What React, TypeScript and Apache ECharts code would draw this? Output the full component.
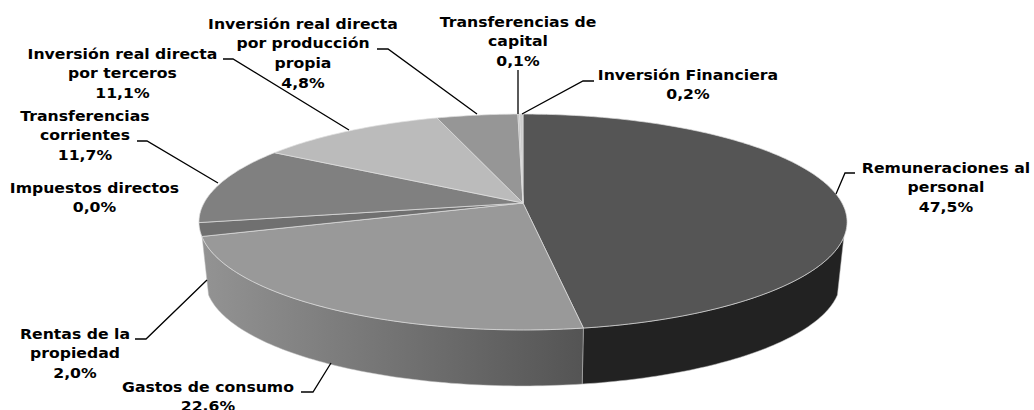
import React, { useEffect, useRef } from "react";
import * as echarts from "echarts";

const categories = [
  "Remuneraciones al\npersonal",
  "Gastos de consumo",
  "Rentas de la\npropiedad",
  "Impuestos directos",
  "Transferencias\ncorrientes",
  "Inversión real directa\npor terceros",
  "Inversión real directa\npor producción\npropia",
  "Transferencias de\ncapital",
  "Inversión Financiera",
];
const shares = [47.5, 22.6, 2.0, 0.0, 11.7, 11.1, 4.8, 0.1, 0.2];

const topColors = ["#555555", "#999999", "#707070", "#8a8a8a", "#808080", "#bbbbbb", "#969696", "#b4b4b4", "#cccccc"];
const sideColors: any[] = [
  "#222222",
  new echarts.graphic.LinearGradient(0, 0, 1, 0, [
    { offset: 0, color: "#939393" },
    { offset: 1, color: "#545454" },
  ]),
  "#8e8e8e",
  "#6a6a6a",
  "#6a6a6a",
  "#8a8a8a",
  "#6f6f6f",
  "#8a8a8a",
  "#999999",
];

// Layout: label centre x, first-line centre y; leader line points
const labelLayout: { x: number; y: number; leader?: number[][] }[] = [
  { x: 946, y: 168, leader: [[855, 173], [845, 173], [836, 194]] },
  { x: 208, y: 387, leader: [[301, 392], [313, 392], [331, 363]] },
  { x: 75, y: 334, leader: [[135, 339], [146, 339], [207, 280]] },
  { x: 94.5, y: 188 },
  { x: 85, y: 116, leader: [[137, 141], [147, 141], [218, 183]] },
  { x: 122.5, y: 54, leader: [[223, 59], [233, 59], [349, 130]] },
  { x: 303, y: 24, leader: [[377, 49], [388, 49], [477, 114]] },
  { x: 518, y: 22, leader: [[518, 70], [518, 114]] },
  { x: 688, y: 75, leader: [[594, 81], [583, 81], [522, 114]] },
];

// Perspective of the pie disc
const apexX = 523;
const apexY = 203;
const persp = 0.176;
const spanY = 104.6;
const spanX = 319;
const depth = 58.5;
const baseScale = 0.98;
// Rim angles between which the outer wall faces the viewer
const wallFrom = 108;
const wallTo = 252;

function rim(deg: number, base: boolean): number[] {
  const a = (deg * Math.PI) / 180;
  const u = Math.sin(a);
  const v = Math.cos(a);
  const den = 1 + persp * v;
  const X = (spanX * u) / den;
  const Y = (-spanY * v) / den;
  return base
    ? [apexX + baseScale * X, apexY + depth + baseScale * Y]
    : [apexX + X, apexY + Y];
}

function arc(a: number, b: number, base: boolean): number[][] {
  const n = Math.max(1, Math.ceil(b - a));
  const pts: number[][] = [];
  for (let i = 0; i <= n; i++) pts.push(rim(a + ((b - a) * i) / n, base));
  return pts;
}

const total = shares.reduce((s, v) => s + v, 0);
const spans = shares.map((v, i) => {
  const before = shares.slice(0, i).reduce((s, x) => s + x, 0);
  return [(before / total) * 360, ((before + v) / total) * 360, i];
});

const fmt = (v: number) => v.toFixed(1).replace(".", ",") + "%";

export default function App() {
  const ref = useRef<HTMLDivElement>(null);
  useEffect(() => {
    document.body.style.margin = "0";
    const chart = echarts.init(ref.current!, undefined, { renderer: "svg" });
    const graphic: any[] = [];
    categories.forEach((c, i) => {
      const l = labelLayout[i];
      graphic.push({
        type: "text",
        x: l.x,
        y: l.y - 10,
        z: 10,
        scaleX: 1.12,
        style: {
          text: `${c}\n${fmt(shares[i])}`,
          fill: "#000",
          font: "bold 14px 'DejaVu Sans'",
          align: "center",
          verticalAlign: "top",
          lineHeight: 19.8,
        },
      });
      if (l.leader) {
        graphic.push({
          type: "polyline",
          z: 10,
          shape: { points: l.leader },
          style: { stroke: "#000", lineWidth: 1.3, fill: "none" },
        });
      }
    });
    chart.setOption({
      animation: false,
      backgroundColor: "#fff",
      tooltip: { show: false },
      graphic,
      series: [
        {
          type: "custom",
          coordinateSystem: "none",
          silent: true,
          z: 1,
          data: spans,
          renderItem: (_p: any, api: any) => {
            const a = Math.max(api.value(0), wallFrom);
            const b = Math.min(api.value(1), wallTo);
            const i = api.value(2);
            if (b - a <= 0) return null;
            return {
              type: "polygon",
              shape: { points: [...arc(a, b, false), ...arc(a, b, true).reverse()] },
              style: { fill: sideColors[i], stroke: "#bdbdbd", lineWidth: 0.5 },
            };
          },
        },
        {
          type: "custom",
          coordinateSystem: "none",
          silent: true,
          z: 2,
          data: spans,
          renderItem: (_p: any, api: any) => {
            const a = api.value(0);
            const b = api.value(1);
            const i = api.value(2);
            if (b - a <= 0) return null;
            return {
              type: "polygon",
              shape: { points: [[apexX, apexY], ...arc(a, b, false)] },
              style: { fill: topColors[i], stroke: "#e0e0e0", lineWidth: 0.7 },
            };
          },
        },
      ],
    });
    return () => chart.dispose();
  }, []);
  return <div ref={ref} style={{ width: 1034, height: 410, background: "#fff" }} />;
}
